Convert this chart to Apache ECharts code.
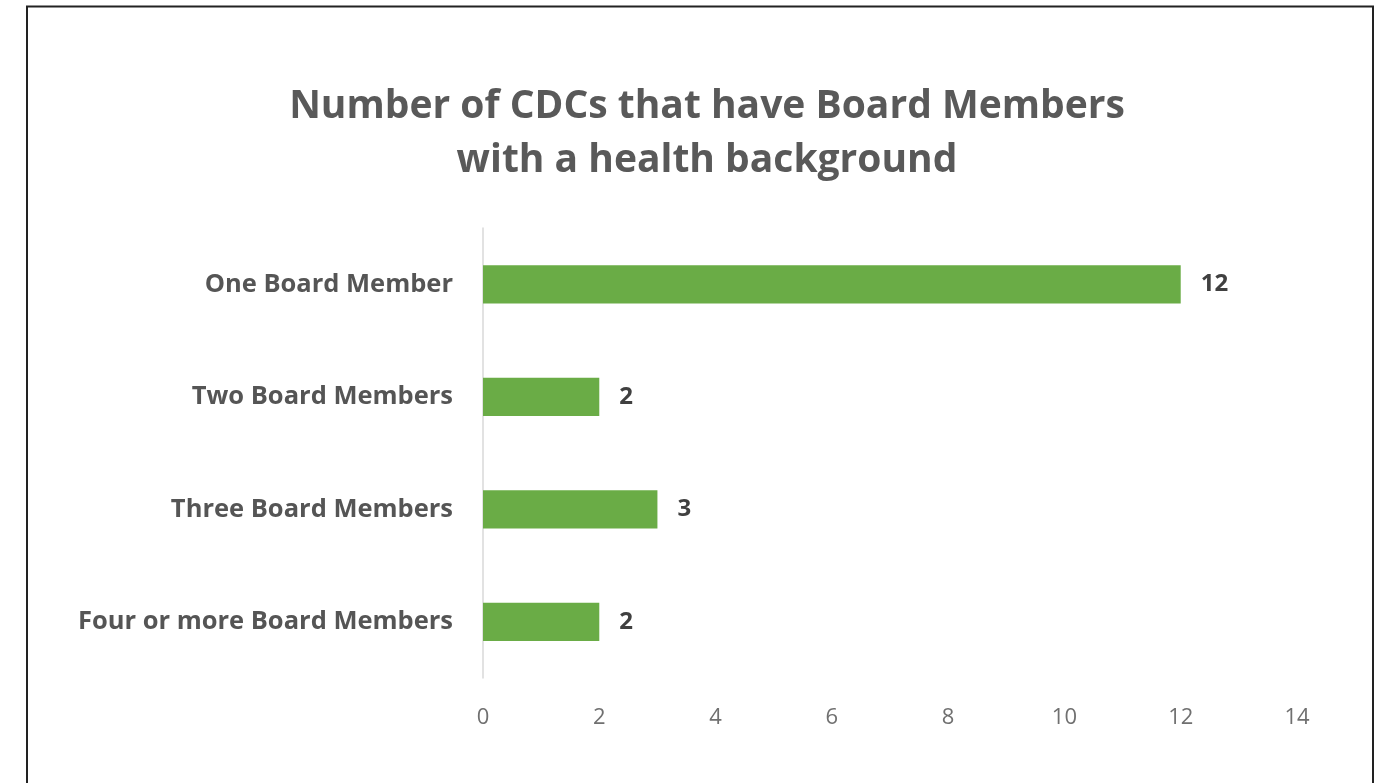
<!DOCTYPE html>
<html><head><meta charset="utf-8">
<script src="https://cdn.jsdelivr.net/npm/echarts@6/dist/echarts.min.js"></script>
<style>html,body{margin:0;padding:0;background:#fff;}#c{width:1385px;height:783px;}</style>
</head><body><div id="c"></div>
<script>
const titleLines = ["Number of CDCs that have Board Members", "with a health background"];
const categories = ["One Board Member", "Two Board Members", "Three Board Members", "Four or more Board Members"];
const values = [12, 2, 3, 2];
const xTicks = [0, 2, 4, 6, 8, 10, 12, 14];

const chart = echarts.init(document.getElementById('c'));
chart.setOption({
  animation: false,
  backgroundColor: '#fff',
  graphic: [{
    type: 'polyline',
    shape: { points: [[27, 800], [27, 6.5], [1373, 6.5], [1373, 800]] },
    style: { stroke: '#222', lineWidth: 2, fill: null }
  }],
  title: {
    text: titleLines.join('\n'),
    left: 702, textAlign: 'center', top: 75,
    textStyle: { fontFamily: 'Open Sans', fontWeight: 'bold', fontSize: 39, color: '#595959', lineHeight: 54 }
  },
  grid: { left: 483, right: 88, top: 228, bottom: 105 },
  xAxis: {
    type: 'value', min: 0, max: 14, interval: 2,
    axisLine: { show: false }, axisTick: { show: false }, splitLine: { show: false },
    axisLabel: { margin: 29, fontFamily: 'Open Sans', fontSize: 22, color: '#707070',
      formatter: v => xTicks.includes(v) ? String(v) : '' }
  },
  yAxis: {
    type: 'category', data: categories, inverse: true,
    axisLine: { show: true, lineStyle: { color: '#d9d9d9', width: 1.5 } },
    axisTick: { show: false },
    axisLabel: { margin: 30, fontFamily: 'Open Sans', fontWeight: 'bold', fontSize: 25.5, color: '#555555' }
  },
  series: [{
    type: 'bar', data: values, barWidth: '34%',
    itemStyle: { color: '#6aac46' },
    label: { show: true, position: 'right', distance: 20, fontFamily: 'Open Sans', fontWeight: 'bold', fontSize: 24, color: '#404040' }
  }]
});
</script></body></html>
